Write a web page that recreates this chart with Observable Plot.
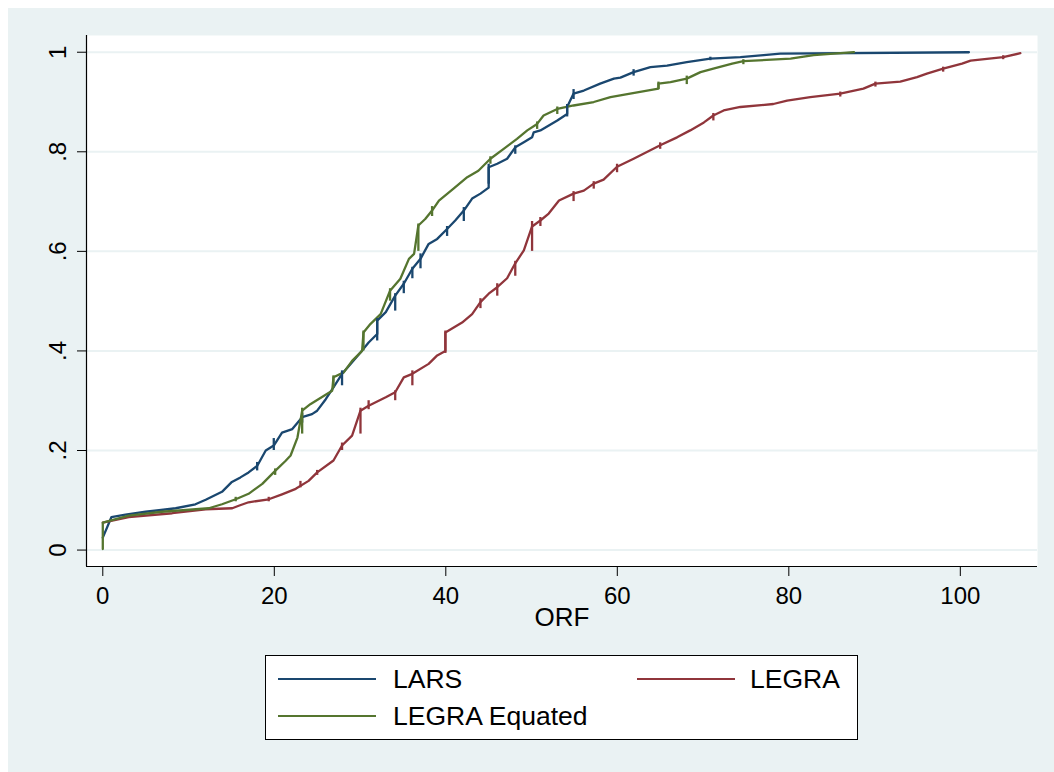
<!DOCTYPE html>
<html>
<head>
<meta charset="utf-8">
<script src="https://cdn.jsdelivr.net/npm/d3@7"></script>
<script src="https://cdn.jsdelivr.net/npm/@observablehq/plot@0.6"></script>
<style>
  html, body { margin: 0; padding: 0; background: #ffffff; }
  body { width: 1054px; height: 772px; position: relative; overflow: hidden; font-family: "Liberation Sans", Arial, Helvetica, sans-serif; }
  #bg { position: absolute; left: 8px; top: 8px; width: 1046px; height: 764px; background: #eaf2f3; }
  #chart { position: absolute; left: 0; top: 0; }
  #legend { position: absolute; left: 257px; top: 647px; width: 591px; height: 83px; border: 1px solid #000; background: #fff; }
  .sw { position: absolute; height: 0; border-top: 2px solid; }
  .lt { position: absolute; font-size: 26.5px; line-height: 30px; color: #000; white-space: nowrap; }
</style>
</head>
<body>
<div id="bg">
  <div id="chart"></div>
  <div id="legend"></div>
</div>
<script>
// ---- data ----
const seriesNames = ["LARS", "LEGRA", "LEGRA Equated"];
const seriesColors = ["#1a476f", "#90353b", "#55752f"];

const larsX = [0, 1.0, 2.65, 5, 8.5, 10.8, 12, 13.9, 15, 16.05, 17, 18, 19, 19.94, 20.9, 22.1, 23.25, 24.4, 25, 26, 26.9, 27.9, 28.9, 30.05, 31, 32, 32, 33, 34.1, 35.1, 36.1, 37.05, 38, 39, 40.15, 41.1, 42.1, 43.07, 44.04, 45, 45, 46, 47.15, 48.1, 49.1, 50.06, 50.25, 51.03, 53, 54.15, 54.15, 54.9, 56.1, 58, 59.6, 60.36, 61.9, 63.86, 65.8, 68.1, 70.85, 74.35, 77.07, 79, 101];
const larsY = [0.025, 0.066, 0.071, 0.077, 0.084, 0.092, 0.101, 0.117, 0.136, 0.146, 0.156, 0.169, 0.2, 0.21, 0.236, 0.243, 0.267, 0.273, 0.28, 0.303, 0.327, 0.354, 0.374, 0.397, 0.417, 0.434, 0.461, 0.478, 0.511, 0.535, 0.565, 0.585, 0.615, 0.625, 0.645, 0.662, 0.682, 0.706, 0.716, 0.728, 0.769, 0.776, 0.786, 0.809, 0.819, 0.829, 0.839, 0.843, 0.863, 0.876, 0.89, 0.917, 0.923, 0.937, 0.947, 0.949, 0.96, 0.97, 0.973, 0.98, 0.987, 0.99, 0.994, 0.997, 1.0];
// short vertical tick strokes seen along the LARS curve (x, top, bottom)
const larsTickX  = [18, 19.94, 23.25, 27.9, 32, 34.1, 35.1, 36.1, 37.05, 40.15, 42.1, 45, 48.1, 54.15, 54.9, 61.9, 70.85];
const larsTickY1 = [0.176, 0.224, 0.275, 0.36, 0.465, 0.515, 0.54, 0.568, 0.595, 0.65, 0.688, 0.775, 0.812, 0.895, 0.925, 0.965, 0.99];
const larsTickY2 = [0.159, 0.2, 0.255, 0.33, 0.42, 0.48, 0.515, 0.545, 0.565, 0.63, 0.66, 0.735, 0.795, 0.87, 0.905, 0.952, 0.983];

const legraX = [0, 3.03, 8.1, 12, 15.1, 15.85, 17, 19.35, 20.9, 22.5, 24, 25, 26.9, 27.9, 29.07, 30.05, 31, 33, 34.1, 35.1, 36.1, 38, 39, 39.95, 39.95, 41.9, 43.07, 44.04, 45, 46, 47.15, 48.1, 49.1, 50.06, 51.03, 52, 53.2, 54.9, 56.1, 57.25, 58.4, 59.97, 61.9, 65, 66.97, 68.5, 70.1, 71.2, 72.4, 74.35, 78.2, 79.8, 82.5, 86, 88.7, 90.1, 93, 94.95, 96.1, 98, 100.2, 101.2, 105, 107];
const legraY = [0.055, 0.066, 0.074, 0.082, 0.084, 0.089, 0.096, 0.102, 0.112, 0.123, 0.139, 0.156, 0.18, 0.21, 0.23, 0.28, 0.29, 0.307, 0.317, 0.347, 0.354, 0.374, 0.391, 0.40, 0.437, 0.457, 0.474, 0.498, 0.515, 0.528, 0.546, 0.576, 0.602, 0.65, 0.662, 0.676, 0.702, 0.716, 0.722, 0.736, 0.744, 0.77, 0.786, 0.813, 0.829, 0.843, 0.859, 0.873, 0.883, 0.89, 0.896, 0.903, 0.91, 0.917, 0.927, 0.937, 0.941, 0.95, 0.957, 0.967, 0.977, 0.983, 0.99, 0.998];
const legraTickX  = [19.35, 23.05, 25, 27.9, 30.05, 31, 34.1, 36.1, 39.95, 44.04, 46, 48.1, 50.06, 51.03, 54.9, 57.25, 59.97, 65, 71.2, 86, 90.1, 98, 105];
const legraTickY1 = [0.106, 0.138, 0.16, 0.215, 0.285, 0.3, 0.32, 0.36, 0.44, 0.505, 0.535, 0.58, 0.66, 0.668, 0.72, 0.74, 0.775, 0.818, 0.877, 0.92, 0.94, 0.97, 0.993];
const legraTickY2 = [0.097, 0.125, 0.15, 0.2, 0.233, 0.282, 0.3, 0.33, 0.395, 0.485, 0.51, 0.55, 0.6, 0.65, 0.7, 0.725, 0.758, 0.805, 0.862, 0.91, 0.93, 0.96, 0.985];

const equatedX = [0, 0, 3.03, 6.9, 12.36, 13.9, 15.5, 17, 18.6, 20.1, 21.3, 21.9, 22.7, 23.25, 24.2, 25.8, 26.75, 26.9, 28.1, 29.07, 30.24, 30.4, 31.2, 32.4, 33.5, 34.7, 35.7, 36.3, 36.8, 37.6, 38.4, 39.2, 40.9, 42.5, 43.8, 45.2, 46.75, 48.3, 49.5, 50.65, 51.4, 53, 54.9, 57.25, 59.2, 61.5, 64.8, 64.8, 66.2, 68.1, 69.7, 71.2, 73.4, 74.7, 80.2, 82.9, 87.6];
const equatedY = [0.002, 0.055, 0.069, 0.077, 0.084, 0.092, 0.102, 0.113, 0.133, 0.159, 0.179, 0.19, 0.226, 0.28, 0.293, 0.31, 0.32, 0.347, 0.357, 0.38, 0.40, 0.437, 0.454, 0.474, 0.521, 0.545, 0.585, 0.595, 0.652, 0.665, 0.682, 0.702, 0.726, 0.749, 0.762, 0.786, 0.806, 0.826, 0.843, 0.856, 0.873, 0.886, 0.893, 0.90, 0.91, 0.917, 0.927, 0.937, 0.94, 0.947, 0.96, 0.967, 0.977, 0.982, 0.987, 0.994, 1.0];
const equatedTickX  = [15.5, 20.1, 23.25, 26.9, 30.4, 33.5, 36.8, 38.4, 45.2, 50.65, 53, 64.8, 68.1, 74.7];
const equatedTickY1 = [0.106, 0.163, 0.285, 0.35, 0.44, 0.525, 0.655, 0.69, 0.79, 0.86, 0.89, 0.94, 0.952, 0.985];
const equatedTickY2 = [0.097, 0.15, 0.233, 0.325, 0.4, 0.5, 0.6, 0.67, 0.775, 0.845, 0.875, 0.925, 0.935, 0.975];

const xTicks = [0, 20, 40, 60, 80, 100];
const yTicks = [0, 0.2, 0.4, 0.6, 0.8, 1];
const xTitle = "ORF";
const xDomain = [-1.9, 109];
const yDomain = [-0.033, 1.0336];

// ---- build tables ----
const rows = [];
const ticks = [];
[[larsX, larsY, larsTickX, larsTickY1, larsTickY2],
 [legraX, legraY, legraTickX, legraTickY1, legraTickY2],
 [equatedX, equatedY, equatedTickX, equatedTickY1, equatedTickY2]].forEach(([xs, ys, tx, t1, t2], i) => {
  xs.forEach((x, j) => rows.push({series: seriesNames[i], x, y: ys[j]}));
  tx.forEach((x, j) => ticks.push({series: seriesNames[i], x, y1: t1[j], y2: t2[j]}));
});

const fmtY = d => d === 0 ? "0" : d === 1 ? "1" : String(d).replace(/^0\./, ".");

const chart = Plot.plot({
  width: 1046,
  height: 632,
  marginLeft: 78,
  marginRight: 17,
  marginTop: 27,
  marginBottom: 74,
  style: {background: "transparent", fontFamily: "'Liberation Sans', Arial, Helvetica, sans-serif", fontSize: "24px", color: "#000", overflow: "visible"},
  x: {domain: xDomain},
  y: {domain: yDomain},
  color: {domain: seriesNames, range: seriesColors},
  marks: [
    Plot.frame({fill: "#ffffff", stroke: null}),
    Plot.gridY(yTicks, {stroke: "#eaf2f3", strokeOpacity: 1, strokeWidth: 2}),
    Plot.axisY(yTicks, {tickSize: 9, tickPadding: 12, tickRotate: -90, tickFormat: fmtY, fontSize: 24, label: null, stroke: "#000"}),
    Plot.axisX(xTicks, {tickSize: 10, tickPadding: 10, tickFormat: d => String(d), fontSize: 24, label: null, stroke: "#000"}),
    Plot.ruleX([xDomain[0]], {stroke: "#000", strokeWidth: 1.2}),
    Plot.ruleY([yDomain[0]], {stroke: "#000", strokeWidth: 1.2}),
    Plot.text([xTitle], {frameAnchor: "bottom", dy: 59, fontSize: 26, fill: "#000"}),
    Plot.line(rows, {x: "x", y: "y", z: "series", stroke: "series", strokeWidth: 2.3, strokeLinejoin: "round"}),
    Plot.ruleX(ticks, {x: "x", y1: "y1", y2: "y2", stroke: "series", strokeWidth: 2.3})
  ]
});
document.getElementById("chart").appendChild(chart);

// ---- legend ----
const legend = document.getElementById("legend");
const legendPos = [
  {sx: 12, sy: 23, tx: 127},
  {sx: 371, sy: 23, tx: 484},
  {sx: 12, sy: 60, tx: 127}
];
seriesNames.forEach((name, i) => {
  const p = legendPos[i];
  const sw = document.createElement("div");
  sw.className = "sw";
  sw.style.left = p.sx + "px";
  sw.style.top = (p.sy - 1) + "px";
  sw.style.width = "98px";
  sw.style.borderTopColor = seriesColors[i];
  legend.appendChild(sw);
  const t = document.createElement("div");
  t.className = "lt";
  t.style.left = p.tx + "px";
  t.style.top = (p.sy - 15) + "px";
  t.textContent = name;
  legend.appendChild(t);
});
</script>
</body>
</html>
